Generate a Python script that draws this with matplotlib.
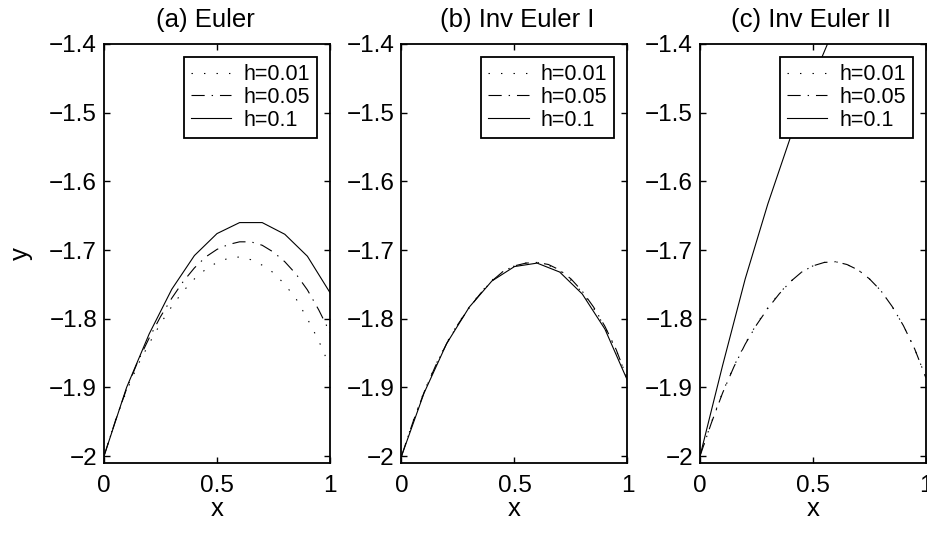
import matplotlib
matplotlib.use("Agg")
import matplotlib.pyplot as plt
from matplotlib.ticker import FixedLocator, FixedFormatter

plt.rcParams["font.family"] = ["Liberation Sans", "DejaVu Sans"]
plt.rcParams["lines.scale_dashes"] = False

# step sizes and panel titles
titles = ["(a) Euler", "(b) Inv Euler I", "(c) Inv Euler II"]
title_x = [0.45, 0.51, 0.49]
labels = ["h=0.01", "h=0.05", "h=0.1"]

# x grids (h=0.01 curve sampled every 0.05)
x_fine = [0.0, 0.05, 0.1, 0.15, 0.2, 0.25, 0.3, 0.35, 0.4, 0.45, 0.5,
          0.55, 0.6, 0.65, 0.7, 0.75, 0.8, 0.85, 0.9, 0.95, 1.0]
x_coarse = [0.0, 0.1, 0.2, 0.3, 0.4, 0.5, 0.6, 0.7, 0.8, 0.9, 1.0]
x_c_coarse = [0.0, 0.1, 0.2, 0.3, 0.4, 0.5, 0.6]

# (a) explicit Euler
euler_h001 = [-2.0, -1.948, -1.905, -1.867, -1.836, -1.807, -1.782, -1.760, -1.742, -1.728, -1.718,
              -1.712, -1.710, -1.714, -1.722, -1.733, -1.750, -1.771, -1.800, -1.832, -1.870]
euler_h005 = [-2.0, -1.949, -1.902, -1.862, -1.828, -1.797, -1.770, -1.746, -1.726, -1.710, -1.699,
              -1.692, -1.688, -1.688, -1.693, -1.703, -1.717, -1.735, -1.758, -1.787, -1.820]
euler_h01 = [-2.0, -1.900, -1.822, -1.757, -1.708, -1.676, -1.660, -1.660, -1.677, -1.709, -1.762]

# (b) inverse Euler I
inv1_h001 = [-2.0, -1.950, -1.906, -1.868, -1.835, -1.807, -1.783, -1.762, -1.744, -1.731, -1.723,
             -1.719, -1.718, -1.722, -1.730, -1.744, -1.762, -1.785, -1.812, -1.846, -1.888]
inv1_h005 = [-2.0, -1.951, -1.907, -1.869, -1.836, -1.808, -1.784, -1.763, -1.745, -1.731, -1.723,
             -1.719, -1.718, -1.721, -1.729, -1.742, -1.760, -1.783, -1.811, -1.845, -1.888]
inv1_h01 = [-2.0, -1.908, -1.836, -1.783, -1.745, -1.724, -1.719, -1.732, -1.764, -1.815, -1.890]

# (c) inverse Euler II
inv2_h001 = [-2.0, -1.951, -1.907, -1.869, -1.836, -1.808, -1.784, -1.763, -1.746, -1.732, -1.723,
             -1.718, -1.717, -1.721, -1.729, -1.742, -1.759, -1.782, -1.810, -1.844, -1.886]
inv2_h005 = [-2.0, -1.952, -1.908, -1.870, -1.837, -1.809, -1.785, -1.764, -1.746, -1.732, -1.723,
             -1.718, -1.717, -1.721, -1.729, -1.742, -1.759, -1.782, -1.810, -1.844, -1.886]
inv2_h01 = [-2.0, -1.868, -1.742, -1.633, -1.536, -1.450, -1.372]

xticks = [0, 0.5, 1]
xticklabels = ["0", "0.5", "1"]
yticks = [-2.0, -1.9, -1.8, -1.7, -1.6, -1.5, -1.4]
yticklabels = ["\u22122", "\u22121.9", "\u22121.8", "\u22121.7", "\u22121.6", "\u22121.5", "\u22121.4"]

panels = [
    (x_fine, euler_h001, x_fine, euler_h005, x_coarse, euler_h01),
    (x_fine, inv1_h001, x_fine, inv1_h005, x_coarse, inv1_h01),
    (x_fine, inv2_h001, x_fine, inv2_h005, x_c_coarse, inv2_h01),
]

dotted = (0, (1.0, 8.0))
dashdot = (0, (9.5, 5.0, 1.0, 5.0))

fig = plt.figure(figsize=(9.28, 5.39), dpi=100)
lefts = [104 / 928, 401.5 / 928, 700 / 928]
for i, (xa, ya, xb, yb, xc, yc) in enumerate(panels):
    ax = fig.add_axes([lefts[i], 76 / 539, 226 / 928, 419 / 539])
    ax.plot(xa, ya, color="black", lw=0.8, linestyle=dotted, label=labels[0])
    ax.plot(xb, yb, color="black", lw=0.8, linestyle=dashdot, label=labels[1])
    ax.plot(xc, yc, color="black", lw=0.8, linestyle="-", label=labels[2])

    ax.set_xlim(0, 1)
    ax.set_ylim(-2.01, -1.4)
    ax.xaxis.set_major_locator(FixedLocator(xticks))
    ax.xaxis.set_major_formatter(FixedFormatter(xticklabels))
    ax.yaxis.set_major_locator(FixedLocator(yticks))
    ax.yaxis.set_major_formatter(FixedFormatter(yticklabels))
    ax.tick_params(direction="in", length=4, width=1, labelsize=17.5,
                   top=True, right=True)
    ax.tick_params(axis="x", pad=9)
    ax.tick_params(axis="y", pad=5)
    for sp in ax.spines.values():
        sp.set_linewidth(1.3)

    ax.set_title(titles[i], fontsize=18.5, pad=12, x=title_x[i])
    ax.set_xlabel("x", fontsize=18.5, labelpad=0)
    if i == 0:
        ax.set_ylabel("y", fontsize=18.5, labelpad=12)

    leg = ax.legend(loc="upper right", fontsize=15.5, frameon=True, fancybox=False,
                    framealpha=1, edgecolor="black", handlelength=1.9,
                    handletextpad=0.55, labelspacing=0.08, borderaxespad=0.62,
                    borderpad=0.32)
    leg.get_frame().set_linewidth(1.3)

fig.savefig("out.png", dpi=100)
